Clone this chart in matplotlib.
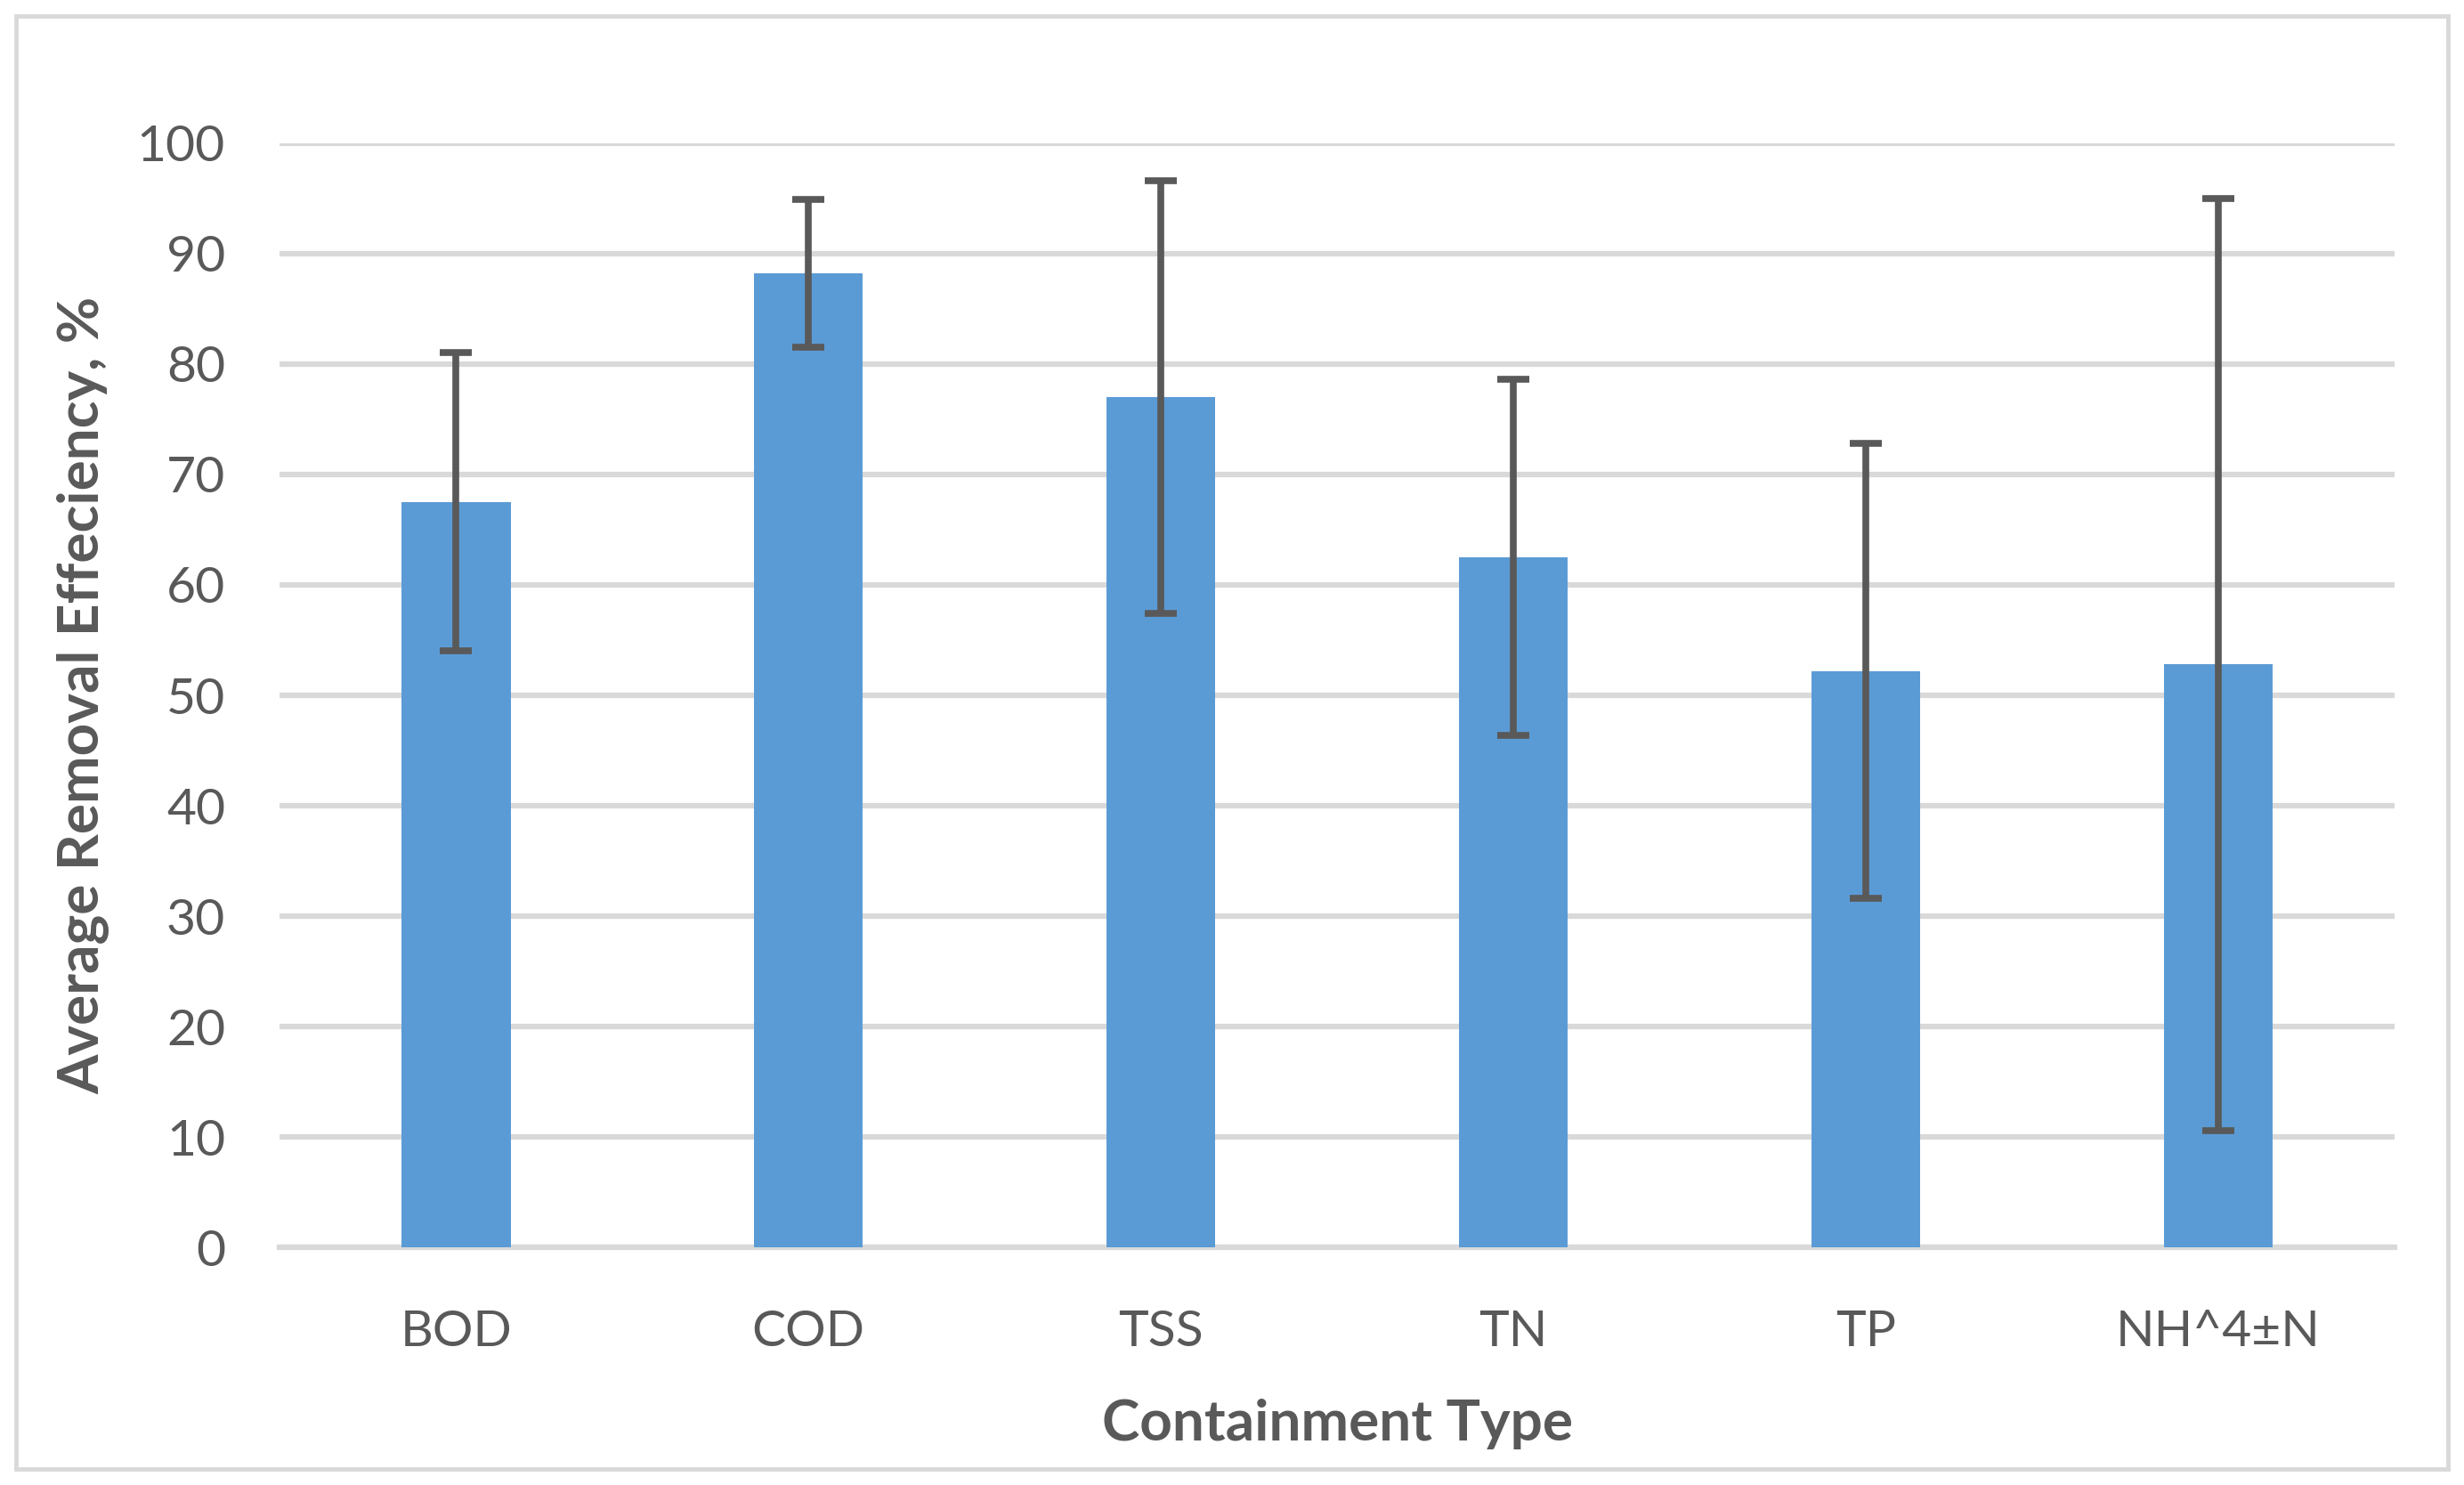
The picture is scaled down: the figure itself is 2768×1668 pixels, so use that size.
import numpy as np
import matplotlib.pyplot as plt
from matplotlib.patches import Rectangle

# data
categories = ['BOD', 'COD', 'TSS', 'TN', 'TP', 'NH^4\u00b1N']
means = [67.5, 88.2, 77.0, 62.5, 52.2, 52.8]
errors = [13.5, 6.7, 19.6, 16.1, 20.6, 42.2]

plt.rcParams['font.family'] = ['Lato', 'DejaVu Sans']
txt = '#595959'

fig = plt.figure(figsize=(27.68, 16.68), dpi=100)
ax = fig.add_axes([0.1135, 0.1598, 0.8583, 0.7439])

x = np.arange(len(categories))
ax.bar(x, means, 0.31, color='#5B9BD5', zorder=3)
ax.errorbar(x, means, yerr=errors, fmt='none', ecolor='#595959',
            elinewidth=5.5, capsize=13, capthick=5.5, zorder=4)

ax.set_xlim(-0.5, len(categories) - 0.5)
ax.set_ylim(0, 100)
ax.set_yticks(np.arange(0, 101, 10))
ax.set_xticks(x)
ax.set_xticklabels(categories)
ax.grid(axis='y', color='#D9D9D9', linewidth=4.5, zorder=0)
ax.tick_params(axis='both', length=0, labelsize=41, colors=txt)
ax.tick_params(axis='y', pad=44)
ax.tick_params(axis='x', pad=50)
for s in ['top', 'right', 'left']:
    ax.spines[s].set_visible(False)
ax.spines['bottom'].set_color('#D9D9D9')
ax.spines['bottom'].set_linewidth(4.5)
ax.spines['bottom'].set_zorder(1)

fig.text(0.0335, 0.1598 + 0.7439 / 2, 'Average Removal Effeciency, %', rotation=90,
         ha='center', va='center', fontsize=46, fontweight='bold', color=txt)
fig.text(0.1135 + 0.8583 / 2, 0.0413, 'Containment Type', ha='center', va='center',
         fontsize=46, fontweight='bold', color=txt)

# light border round the whole chart
fig.patches.append(Rectangle((0.0065, 0.0105), 0.987, 0.979, transform=fig.transFigure,
                             fill=False, edgecolor='#D9D9D9', linewidth=3.5))

fig.savefig('out.png', dpi=100)
